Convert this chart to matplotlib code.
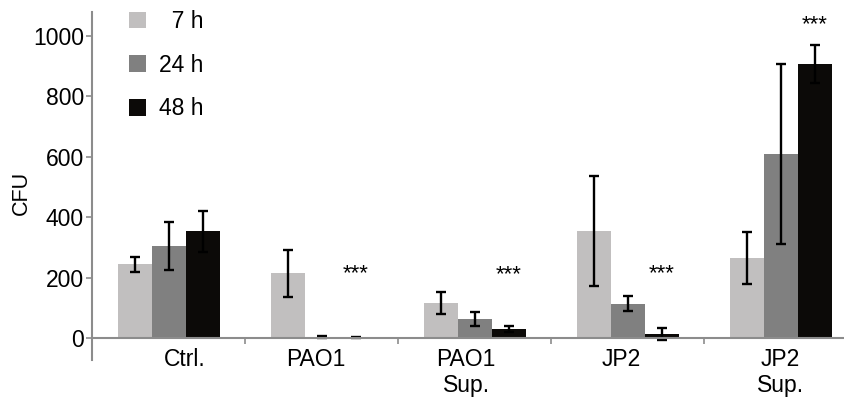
import numpy as np
import matplotlib.pyplot as plt

plt.rcParams['font.family'] = ['Liberation Sans', 'DejaVu Sans']

# data
groups = ["Ctrl.", "PAO1", "PAO1\nSup.", "JP2", "JP2\nSup."]
series = ["  7 h", "24 h", "48 h"]
vals_7h = [245, 215, 116, 354, 265]
vals_24h = [305, 4, 63, 113, 609]
vals_48h = [354, 3, 30, 13, 907]
err_7h = [25, 78, 37, 182, 87]
err_24h = [80, 3, 23, 25, 298]
err_48h = [68, 2, 10, 20, 63]
stars = ["", "***", "***", "***", "***"]
star_y = [0, 212, 210, 212, 1037]

colors = ["#c1bfbf", "#808080", "#0c0a08"]
axis_grey = "#8c8c8c"
fs = 16.5

fig = plt.figure(figsize=(8.45, 3.97), dpi=100)
ax = fig.add_axes([0.109, 0.093, 0.891, 0.877])

x = np.arange(len(groups)) + 0.5
w = 0.222
handles = []
for k, (vals, errs) in enumerate([(vals_7h, err_7h), (vals_24h, err_24h), (vals_48h, err_48h)]):
    b = ax.bar(x + (k - 1) * w, vals, width=w, color=colors[k], label=series[k],
               yerr=errs, error_kw=dict(ecolor="black", elinewidth=1.7, capsize=3.5, capthick=1.7),
               zorder=2)
    handles.append(b)

# significance marks above the 48 h bars
for xi, s, sy in zip(x, stars, star_y):
    if s:
        ax.text(xi + w, sy, s, ha="center", va="center", fontsize=16)

ax.set_xlim(0, 4.92)
ax.set_ylim(-73, 1080)
ax.set_yticks(range(0, 1001, 200))
ax.set_xticks(np.arange(0, 5))
ax.set_xticklabels([])
ax.set_xticks(x + np.array([0.105, -0.04, -0.055, -0.045, 0.0]), minor=True)
ax.set_xticklabels(groups, minor=True, linespacing=1.0)
ax.tick_params(axis="x", which="minor", length=0, pad=7, labelsize=fs)
ax.tick_params(axis="x", which="major", length=4, color=axis_grey, width=1.2)
ax.tick_params(axis="y", labelsize=fs, length=4, color=axis_grey, width=1.2, pad=2)
ax.set_ylabel("CFU", fontsize=15.5)
ax.yaxis.set_label_coords(-0.08, 0.48)

ax.spines["top"].set_visible(False)
ax.spines["right"].set_visible(False)
ax.spines["bottom"].set_position(("data", 0))
for sp in ("left", "bottom"):
    ax.spines[sp].set_color(axis_grey)
    ax.spines[sp].set_linewidth(1.5)

ax.legend(handles=handles, loc="upper left", bbox_to_anchor=(0.022, 1.065), frameon=False,
          fontsize=fs, labelspacing=0.9, handlelength=0.75, handleheight=0.75,
          handletextpad=0.55)

fig.savefig("out.png", dpi=100)
